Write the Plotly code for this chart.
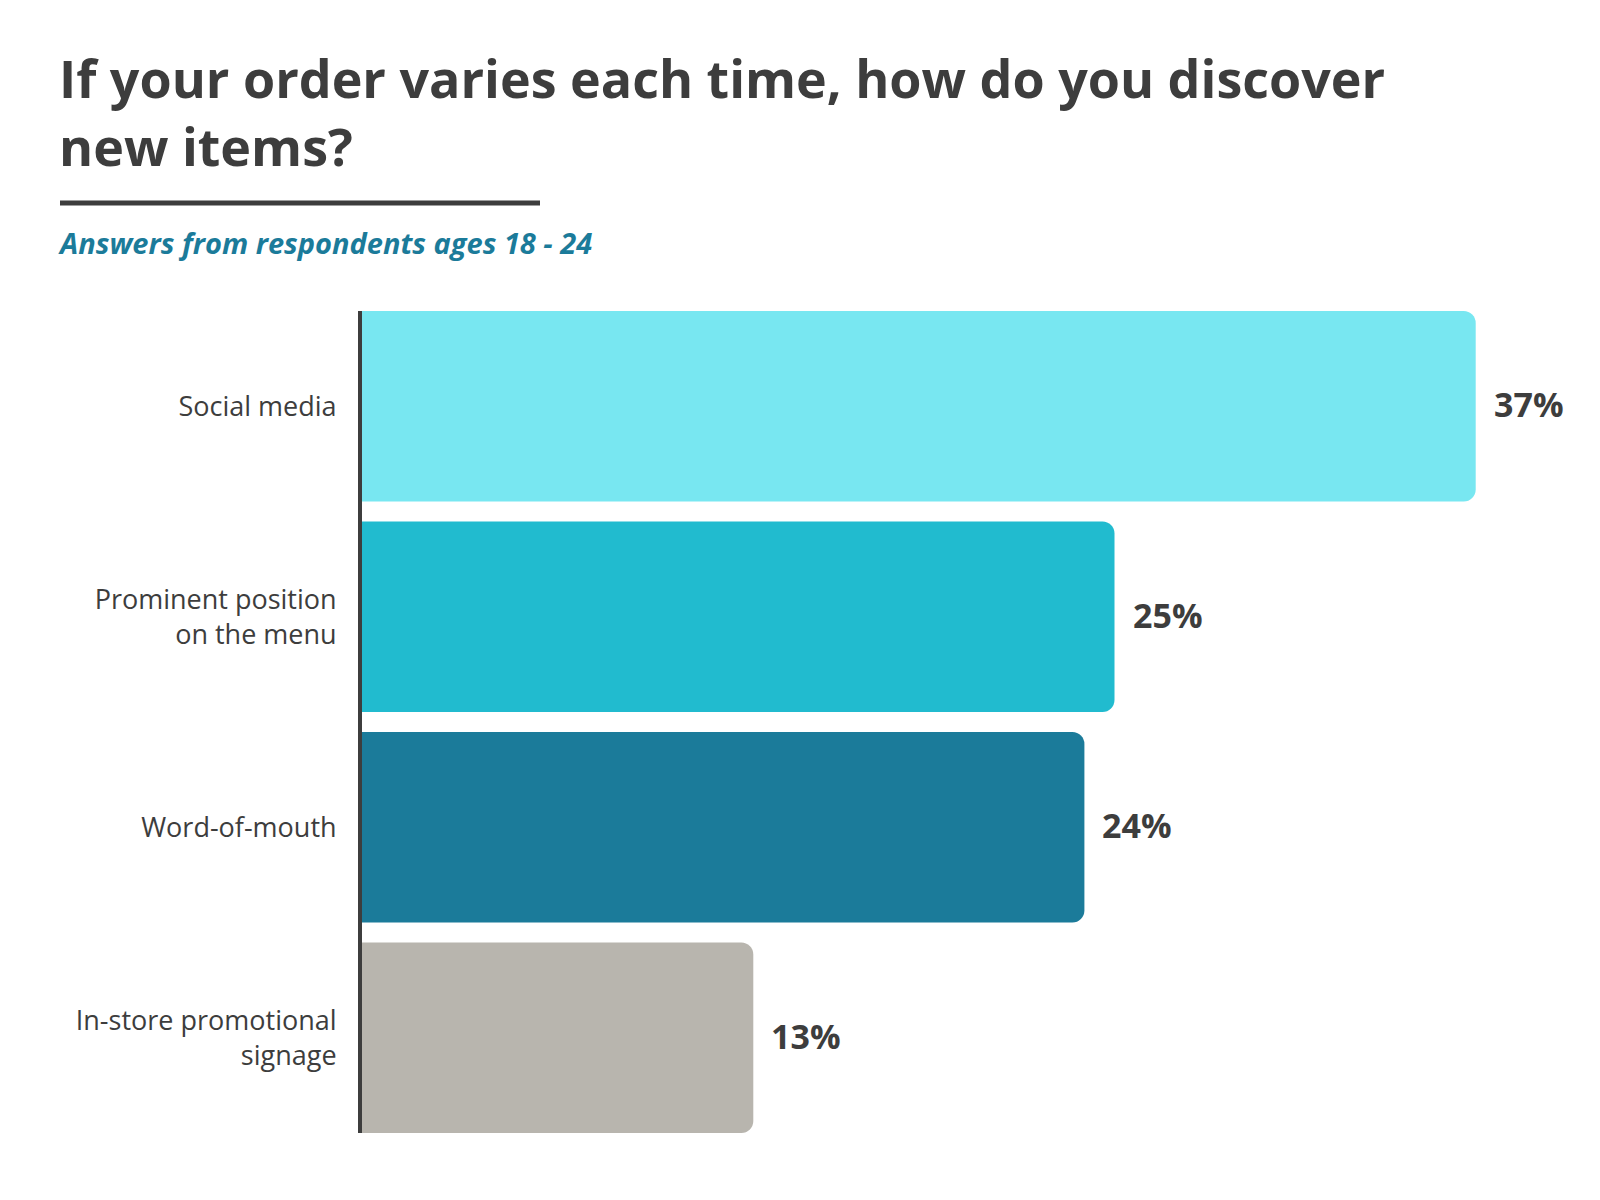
import plotly.graph_objects as go

# ---- data ----
categories = ["Social media", "Prominent position<br>on the menu", "Word-of-mouth",
              "In-store promotional<br>signage"]
values = [37, 25, 24, 13]
value_labels = ["37%", "25%", "24%", "13%"]
bar_colors = ["#78e7f1", "#21bbcf", "#1b7b9a", "#b8b5ae"]

title_line1 = "If your order varies each time, how do you discover"
title_line2 = "new items?"
subtitle = "Answers from respondents ages 18 - 24"

# ---- layout geometry (pixels) ----
W, H = 1600, 1200
L, R, T, B = 362, 34, 311, 67
PW, PH = W - L - R, H - T - B
XMAX = 40


def px(x):
    return (x - L) / PW


def py(y):
    return (H - B - y) / PH


DARK = "#3d3d3d"
FONT = "Open Sans"

fig = go.Figure()
fig.add_trace(go.Bar(
    x=values, y=categories, orientation="h",
    marker=dict(color=bar_colors, cornerradius=12, line=dict(width=0)),
    hoverinfo="skip", showlegend=False,
))

annotations = []
for v, lab, c in zip(values, value_labels, categories):
    annotations.append(dict(
        x=v, y=c, xref="x", yref="y", text=lab, showarrow=False,
        xanchor="left", yanchor="middle", xshift=16, yshift=2,
        font=dict(family=FONT, size=34, color=DARK, weight=700),
    ))

annotations += [
    dict(x=px(57), y=py(77), xref="paper", yref="paper", text=title_line1,
         showarrow=False, xanchor="left", yanchor="middle",
         font=dict(family=FONT, size=52, color=DARK, weight=700)),
    dict(x=px(57), y=py(146), xref="paper", yref="paper", text=title_line2,
         showarrow=False, xanchor="left", yanchor="middle",
         font=dict(family=FONT, size=52, color=DARK, weight=700)),
    dict(x=px(56), y=py(242), xref="paper", yref="paper", text=subtitle,
         showarrow=False, xanchor="left", yanchor="middle",
         font=dict(family=FONT, size=29, color="#1b7b9a", weight=700, style="italic")),
]

shapes = [dict(type="line", xref="paper", yref="paper",
               x0=px(60), x1=px(540), y0=py(203), y1=py(203),
               line=dict(color=DARK, width=5))]

fig.update_layout(
    width=W, height=H, autosize=False,
    margin=dict(l=L, r=R, t=T, b=B, pad=0),
    paper_bgcolor="white", plot_bgcolor="white",
    bargap=0.095,
    annotations=annotations, shapes=shapes,
    xaxis=dict(range=[0, XMAX], showgrid=False, zeroline=False,
               showticklabels=False, showline=False, fixedrange=True),
    yaxis=dict(type="category", range=[3.4525, -0.4525], showgrid=False,
               zeroline=False, showline=True, linewidth=4, linecolor=DARK,
               ticks="", ticklabelstandoff=16,
               tickfont=dict(family=FONT, size=27, color=DARK, weight=400)),
)

fig.write_html("out.html")
